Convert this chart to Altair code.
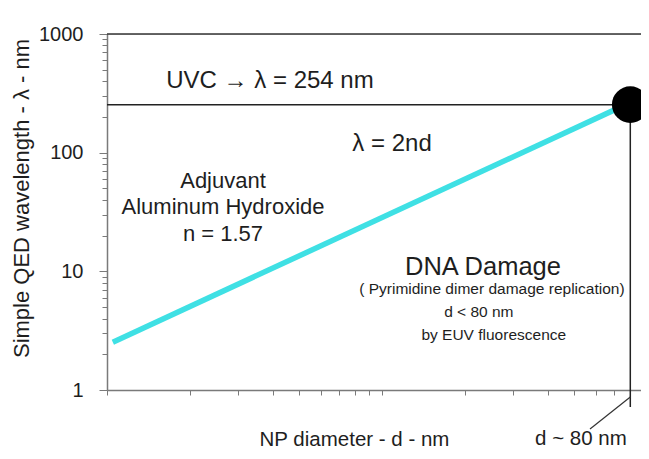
import altair as alt
import pandas as pd

# ---------------- data ----------------
line_d = [1.05, 87.5]          # NP diameter (nm) at the ends of the cyan line
line_lam = [2.53, 291]         # simple QED wavelength (nm) at those ends

uvc_lambda = 254               # UVC wavelength
cut_d = 80                     # d ~ 80 nm

x_domain = [1, 87.5]
y_domain = [1, 1000]

x_tick_values = [1, 2, 3, 4, 5, 6, 7, 8, 9, 10, 20, 30, 40, 50, 60, 70, 80]
y_tick_values = [1, 2, 3, 4, 5, 6, 7, 8, 9,
                 10, 20, 30, 40, 50, 60, 70, 80, 90,
                 100, 200, 300, 400, 500, 600, 700, 800, 900, 1000]
y_major = [1, 10, 100, 1000]

title_text = ["UVC \u2192 \u03bb = 254 nm", "\u03bb = 2nd"]
title_d = [3.915, 10.88]
title_lam = [401, 118.3]

adj_text = ["Adjuvant", "Aluminum Hydroxide", "n = 1.57"]
adj_d = [2.642, 2.642, 2.642]
adj_lam = [57.7, 34.8, 20.6]

dna_text = ["DNA Damage"]
dna_d = [23.3]
dna_lam = [10.9]

small_text = ["( Pyrimidine dimer damage replication)", "d < 80 nm", "by EUV fluorescence"]
small_d = [25.1, 22.5, 25.5]
small_lam = [7.1, 4.54, 2.91]

cut_label = ["d ~ 80 nm"]
cut_label_d = [52.9]
cut_label_lam = [0.39]

leader_d = [57.1]
leader_lam = [0.469]
leader_d2 = [80]
leader_lam2 = [0.873]

vline_bottom_lam = 0.719

# ---------------- chart ----------------
FONT = "Liberation Sans"
TXT = "#1e1e1e"

xs = alt.Scale(type="log", domain=x_domain, nice=False)
ys = alt.Scale(type="log", domain=y_domain, nice=False)

base_line = pd.DataFrame({"d": line_d, "lam": line_lam})

x_axis = alt.Axis(values=x_tick_values, labels=False, tickSize=5, grid=False,
                  domainColor="#7a7a7a", tickColor="#7a7a7a", domainWidth=1.5,
                  title="NP diameter - d - nm", titleFont=FONT, titleFontSize=20.5,
                  titleFontWeight="normal", titleColor=TXT,
                  titleX=247, titleY=49, titleBaseline="middle", titleAnchor="start",
                  titleAlign="center")
major_test = "indexof([1, 10, 100, 1000], datum.value) >= 0"
y_axis = alt.Axis(values=y_tick_values, grid=False, labelOverlap=False,
                  labelExpr=f"{major_test} ? format(datum.value, 'd') : ''",
                  tickSize={"condition": {"test": major_test, "value": 8}, "value": 5},
                  labelPadding=16, labelFont=FONT, labelFontSize=20, labelColor=TXT,
                  domainColor="#7a7a7a", tickColor="#7a7a7a", domainWidth=1.5,
                  title="Simple QED wavelength - \u03bb - nm", titleFont=FONT,
                  titleFontSize=22, titleFontWeight="normal", titleColor=TXT,
                  titleX=-86, titleY=164, titleAngle=270, titleBaseline="middle",
                  titleAlign="center")

cyan = alt.Chart(base_line).mark_line(color="#3fe0e4", strokeWidth=5.5).encode(
    x=alt.X("d:Q", scale=xs, axis=x_axis),
    y=alt.Y("lam:Q", scale=ys, axis=y_axis),
)

top_rule = alt.Chart(pd.DataFrame({"y": [y_domain[1]], "x": [x_domain[0]], "x2": [x_domain[1]]})).mark_rule(
    color="#333333", strokeWidth=1.5).encode(
    x=alt.X("x:Q", scale=xs), x2="x2:Q", y=alt.Y("y:Q", scale=ys))

uvc_rule = alt.Chart(pd.DataFrame({"y": [uvc_lambda], "x": [x_domain[0]], "x2": [cut_d]})).mark_rule(
    color="#222222", strokeWidth=1.5).encode(
    x=alt.X("x:Q", scale=xs), x2="x2:Q", y=alt.Y("y:Q", scale=ys))

v_rule = alt.Chart(pd.DataFrame({"x": [cut_d], "y": [uvc_lambda], "y2": [vline_bottom_lam]})).mark_rule(
    color="#222222", strokeWidth=1.5).encode(
    x=alt.X("x:Q", scale=xs), y=alt.Y("y:Q", scale=ys), y2="y2:Q")

leader = alt.Chart(pd.DataFrame({"x": leader_d, "y": leader_lam, "x2": leader_d2, "y2": leader_lam2})).mark_rule(
    color="#333333", strokeWidth=1.2).encode(
    x=alt.X("x:Q", scale=xs), y=alt.Y("y:Q", scale=ys), x2="x2:Q", y2="y2:Q")

dot = alt.Chart(pd.DataFrame({"d": [cut_d], "lam": [uvc_lambda]})).mark_point(
    filled=True, color="black", opacity=1, size=1350, shape="circle").encode(
    x=alt.X("d:Q", scale=xs), y=alt.Y("lam:Q", scale=ys))


def text_layer(texts, ds, lams, size):
    df = pd.DataFrame({"t": texts, "d": ds, "lam": lams})
    return alt.Chart(df).mark_text(font=FONT, fontSize=size, color=TXT,
                                   align="center", baseline="middle").encode(
        x=alt.X("d:Q", scale=xs), y=alt.Y("lam:Q", scale=ys), text="t:N")


texts = [
    text_layer(title_text, title_d, title_lam, 24),
    text_layer(adj_text, adj_d, adj_lam, 22),
    text_layer(dna_text, dna_d, dna_lam, 25.5),
    text_layer(small_text, small_d, small_lam, 15.5),
    text_layer(cut_label, cut_label_d, cut_label_lam, 20.5),
]

chart = alt.layer(cyan, top_rule, uvc_rule, v_rule, leader, dot, *texts).properties(
    width=534, height=356,
    autosize=alt.AutoSizeParams(type="none"),
    padding={"left": 99, "top": 26, "right": 0, "bottom": 61},
).configure_view(stroke=None).configure(background="white")

chart.save("out.html", embed_options={"renderer": "svg", "actions": False})
